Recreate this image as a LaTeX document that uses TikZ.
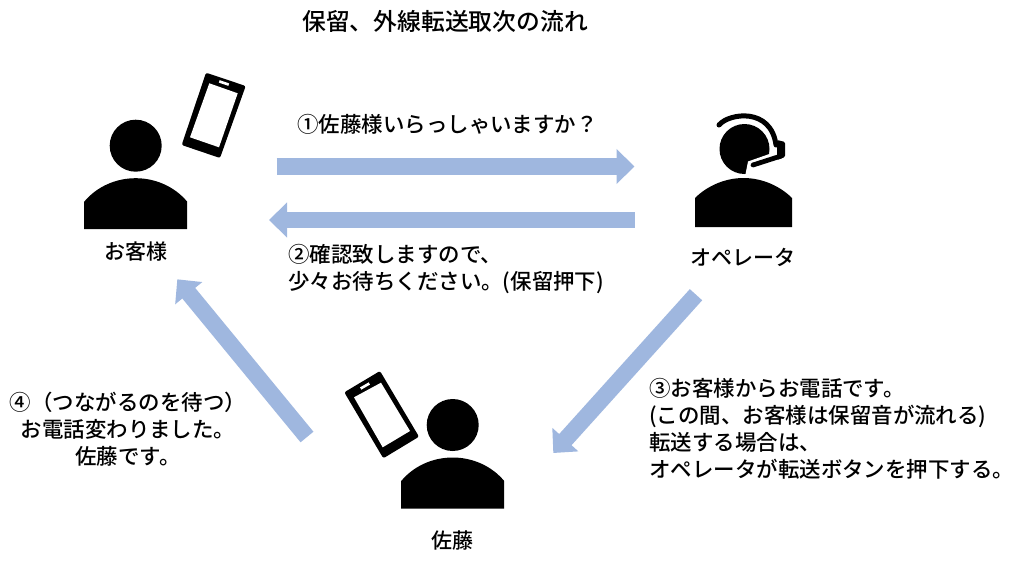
\documentclass[tikz,border=0pt]{standalone}
\usepackage{fontspec}
\setmainfont{Noto Sans CJK JP Medium}
\usetikzlibrary{arrows.meta}
\definecolor{arrowblue}{HTML}{9FB7DF}
\tikzstyle{arrow} = [
    line width=12.5pt,
    arrowblue,
    -{Triangle[width=25.5pt,length=13.5pt]}
]
\tikzstyle{label} = [
    font=\fontsize{16.1pt}{20.25pt}\selectfont,
    inner sep=0pt,
    align=left
]
\tikzstyle{caption} = [
    label,
    font=\fontsize{15.75pt}{20.25pt}\selectfont
]
\tikzset{
    person/.pic={
        \fill (0,0) circle (26);
        \fill (-51.5,83.5) -- (-51.5,56) .. controls (-39,41) and (-20,32.5) .. (0,32.5)
            .. controls (20,32.5) and (39,41) .. (51.5,56) -- (51.5,83.5) -- cycle;
    }
}
\begin{document}
\begin{tikzpicture}[x=0.75pt,y=-0.75pt]
\useasboundingbox (0,0) rectangle (1024,567);

\node (title) [caption, font=\fontsize{17.85pt}{22pt}\selectfont] at (445,21)
{保留、外線転送取次の流れ};

% customer
\pic at (135.7,145.7) {person};
\fill [rounded corners=1.5pt]
    (206,72.7) -- (245.7,86) -- (220,158) -- (181.7,145) -- cycle;
\fill [white] (209.3,83.3) -- (237.7,93.3) -- (219,147.3) -- (190,137.3) -- cycle;
\fill [white, rotate around={-19:(224,83)}] (219,81.7) rectangle (229,84.3);
\node (customer) [caption] at (135.5,252) {お客様};

% operator
\fill (744.5,149) circle (25);
\fill [white] (775,152) -- (748,161.5) -- (745.5,174) -- (775,174) -- cycle;
\fill (695,227) -- (695,198) .. controls (707,186) and (725,178) .. (743.5,178)
    .. controls (762,178) and (780,186) .. (792,198) -- (792,227) -- cycle;
\draw [line width=3.75pt, line cap=round] (719,125) .. controls (729,113) and (771,107) .. (776,145);
\fill [rounded corners=1pt] (777,140) -- (785,142) -- (785,157) -- (777,160) -- cycle;
\draw [line width=3.6pt, line cap=round] (781,156) -- (753,165);
\node (operator) [caption] at (742.5,257) {オペレータ};

% sato
\pic at (452.7,425) {person};
\fill [rounded corners=1.5pt]
    (380,371) -- (419,436.7) -- (383.3,458.3) -- (344.3,392.3) -- cycle;
\fill [white] (354,397.3) -- (381,382.7) -- (410,431) -- (382.7,447.3) -- cycle;
\fill [white, rotate around={30:(365,386)}] (360,384.7) rectangle (370,387.3);
\node (sato) [caption] at (452,541) {佐藤};

% arrows
\coordinate (a1s) at (276.5,166.5);
\coordinate (a1e) at (634.5,166.5);
\coordinate (a2s) at (634.5,220);
\coordinate (a2e) at (269,220);
\coordinate (a3s) at (696,294.7);
\coordinate (a3e) at (553.3,453);
\coordinate (a4s) at (307,437);
\coordinate (a4e) at (177.3,279.3);

\draw [arrow] (a1s) -- (a1e);
\draw [arrow] (a2s) -- (a2e);
\draw [arrow] (a3s) -- (a3e);
\draw [arrow] (a4s) -- (a4e);

% messages
\node (msg1) [label, anchor=west] at (297,124) {①佐藤様いらっしゃいますか？};
\node (msg2) [label, anchor=west] at (288,269.5) {②確認致しますので、\\少々お待ちください。(保留押下)};
\node (msg3) [label, anchor=west] at (649,429) {③お客様からお電話です。\\(この間、お客様は保留音が流れる)\\転送する場合は、\\オペレータが転送ボタンを押下する。};
\node (msg4) [label, align=center] at (128,429) {④（つながるのを待つ）\\お電話変わりました。\\佐藤です。};

\end{tikzpicture}
\end{document}
